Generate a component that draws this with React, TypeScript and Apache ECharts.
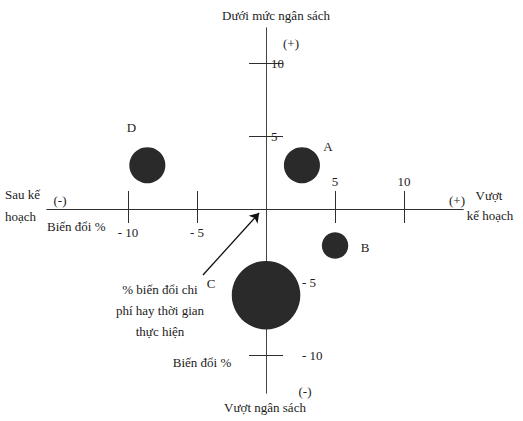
import React, { useEffect, useRef } from "react";
import * as echarts from "echarts";

// project positions: schedule variance (%) and cost variance (%)
const projects = ["A", "B", "C", "D"];
const scheduleVariance = [2.6, 5, 0, -8.6];
const costVariance = [3, -2.5, -5.9, 3];
const projectSize = [13, 7, 47, 13];

const xTicksPos = [5, 10];
const xTicksNeg = [-10, -5];
const yTicksPos = [5, 10];
const yTicksNeg = [-10, -5];

// arrow from the note text towards the origin
const arrowFrom = [-4.57, -4.52];
const arrowTo = [-0.5, -0.27];

const FONT = "Liberation Serif, serif";
const INK = "#1c1c1c";

const labelOffsets: Record<string, number[]> = {
  A: [26, -19],
  B: [30, 2],
  C: [-55, -12],
  D: [-16, -38],
};

// grid box (px) and where the zero lines fall inside it
const GRID = { left: 47, right: 60, top: 28, bottom: 28 };
const X_MIN = -15.87;
const X_MAX = 14.27;
const Y_MIN = -12.6;
const Y_MAX = 12.4;

const App: React.FC = () => {
  const chartRef = useRef<HTMLDivElement>(null);

  useEffect(() => {
    if (!chartRef.current) return;
    const chart = echarts.init(chartRef.current, undefined, { renderer: "svg" });

    const gridW = 523 - GRID.left - GRID.right;
    const gridH = 421 - GRID.top - GRID.bottom;
    // move the axes from the grid edge onto the zero lines
    const xOffset = -(gridH * (0 - Y_MIN)) / (Y_MAX - Y_MIN);
    const yOffset = -(gridW * (0 - X_MIN)) / (X_MAX - X_MIN);

    const axisLine = { onZero: false, lineStyle: { color: "#2e2e2e", width: 1 } };
    const tickLine = { color: "#2e2e2e", width: 1 };
    const labelText = { fontFamily: FONT, fontSize: 13, color: INK };

    const txt = (text: string, x: number, y: number, align = "center") => ({
      type: "text",
      x,
      y,
      style: {
        text,
        fill: INK,
        fontFamily: FONT,
        fontSize: 13,
        align,
        verticalAlign: "middle",
        lineHeight: 21,
      },
    });

    const xBase = {
      type: "value",
      min: X_MIN,
      max: X_MAX,
      position: "bottom",
      offset: xOffset,
      axisLine,
      splitLine: { show: false },
    };
    const yBase = {
      type: "value",
      min: Y_MIN,
      max: Y_MAX,
      position: "left",
      offset: yOffset,
      axisLine: { ...axisLine, lineStyle: { color: "#444", width: 1 } },
      splitLine: { show: false },
    };

    const option = {
      animation: false,
      grid: GRID,
      xAxis: [
        {
          ...xBase,
          axisTick: {
            show: true,
            inside: true,
            length: 18,
            customValues: [...xTicksNeg, ...xTicksPos],
            lineStyle: tickLine,
          },
          axisLabel: {
            show: true,
            inside: true,
            margin: 21,
            customValues: xTicksPos,
            ...labelText,
          },
        },
        {
          ...xBase,
          axisTick: {
            show: true,
            inside: false,
            length: 14,
            customValues: [...xTicksNeg, ...xTicksPos],
            lineStyle: tickLine,
          },
          axisLabel: {
            show: true,
            margin: 17,
            customValues: xTicksNeg,
            formatter: (v: number) => `- ${-v}`,
            ...labelText,
          },
        },
      ],
      yAxis: [
        {
          ...yBase,
          axisTick: {
            show: true,
            inside: true,
            length: 17,
            customValues: [...yTicksNeg, ...yTicksPos],
            lineStyle: tickLine,
          },
          axisLabel: {
            show: true,
            inside: true,
            margin: 5,
            customValues: yTicksPos,
            ...labelText,
          },
        },
        {
          ...yBase,
          axisTick: {
            show: true,
            inside: false,
            length: 17,
            customValues: [...yTicksNeg, ...yTicksPos],
            lineStyle: tickLine,
          },
          axisLabel: {
            show: true,
            inside: true,
            margin: 36,
            customValues: yTicksNeg,
            formatter: (v: number) => `- ${-v}`,
            ...labelText,
          },
        },
      ],
      series: [
        {
          type: "scatter",
          xAxisIndex: 0,
          yAxisIndex: 0,
          data: projects.map((name, i) => ({
            name,
            value: [scheduleVariance[i], costVariance[i], projectSize[i]],
            label: { offset: labelOffsets[name] },
          })),
          symbolSize: (val: number[]) => 10 * Math.sqrt(val[2]),
          itemStyle: { color: "#2a2a2a", opacity: 1 },
          label: {
            show: true,
            position: "inside",
            formatter: "{b}",
            ...labelText,
          },
          markLine: {
            silent: true,
            symbol: ["none", "arrow"],
            symbolSize: 9,
            label: { show: false },
            lineStyle: { color: "#111", width: 1.3, type: "solid" },
            data: [[{ coord: arrowFrom }, { coord: arrowTo }]],
          },
          z: 3,
        },
      ],
      graphic: [
        txt("Dưới mức ngân sách", 276, 15),
        txt("(+)", 291, 43),
        txt("(-)", 305, 391),
        txt("Vượt ngân sách", 265, 407),
        txt("Sau kế", 5, 194, "left"),
        txt("hoạch", 5, 216, "left"),
        txt("(-)", 60, 200),
        txt("Biến đổi %", 47, 226, "left"),
        txt("(+)", 457, 200),
        txt("Vượt", 489, 195),
        txt("kế hoạch", 490, 215),
        txt("% biến đổi chi\nphí hay thời gian\nthực hiện", 160, 310),
        txt("Biến đổi %", 202, 362),
      ],
    };

    chart.setOption(option);
    return () => chart.dispose();
  }, []);

  return (
    <div
      ref={chartRef}
      style={{ position: "absolute", left: 0, top: 0, width: 523, height: 421, background: "#fff" }}
    />
  );
};

export default App;
